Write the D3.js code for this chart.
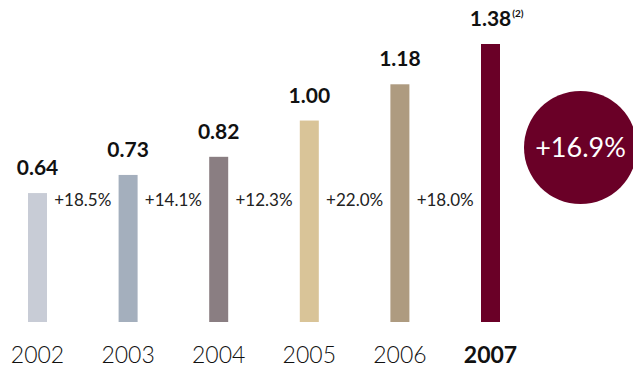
<!DOCTYPE html>
<html>
<head>
<meta charset="utf-8">
<script src="https://cdn.jsdelivr.net/npm/d3@7"></script>
<style>
  html, body { margin: 0; padding: 0; background: #fff; }
  svg { display: block; font-family: Lato, "Open Sans", sans-serif; }
</style>
</head>
<body>
<svg id="chart" width="633" height="368"></svg>
<script>
// Yearly values, growth between consecutive years, and bar colours
const years = ["2002", "2003", "2004", "2005", "2006", "2007"];
const values = [0.64, 0.73, 0.82, 1.00, 1.18, 1.38];
const valueLabels = ["0.64", "0.73", "0.82", "1.00", "1.18", "1.38"];
const growth = ["+18.5%", "+14.1%", "+12.3%", "+22.0%", "+18.0%"];
const barColors = ["#c8ccd6", "#a4afbd", "#8a7e82", "#d9c498", "#ae9b80", "#6a0027"];
const cagrLabel = "+16.9%";
const footnote = "(2)";

const svg = d3.select("#chart");
const baseline = 322;
const barWidth = 19;

const x = d3.scalePoint().domain(years).range([37.5, 490.5]);
const y = d3.scaleLinear().domain([0, 1.38]).range([baseline, 44]);

const data = years.map((yr, i) => ({ year: yr, value: values[i], label: valueLabels[i], color: barColors[i] }));

// Bars
svg.selectAll("rect.bar").data(data).join("rect")
  .attr("class", "bar")
  .attr("x", d => x(d.year) - barWidth / 2)
  .attr("y", d => y(d.value))
  .attr("width", barWidth)
  .attr("height", d => baseline - y(d.value))
  .attr("fill", d => d.color);

// Value labels above bars
const vl = svg.selectAll("text.val").data(data).join("text")
  .attr("class", "val")
  .attr("x", d => x(d.year))
  .attr("y", d => y(d.value) - 18)
  .attr("text-anchor", "middle")
  .attr("font-size", 21)
  .attr("font-weight", 700)
  .attr("fill", "#111")
  .text(d => d.label);

// Footnote marker on the last value
const last = data[data.length - 1];
const lastNode = vl.filter(d => d === last).node();
const bb = lastNode.getBBox();
svg.append("text")
  .attr("x", bb.x + bb.width + 1)
  .attr("y", y(last.value) - 27)
  .attr("font-size", 10)
  .attr("font-weight", 700)
  .attr("fill", "#111")
  .text(footnote);

// Growth labels between bars
svg.selectAll("text.growth").data(growth).join("text")
  .attr("class", "growth")
  .attr("x", (d, i) => (x(years[i]) + x(years[i + 1])) / 2)
  .attr("y", 206)
  .attr("text-anchor", "middle")
  .attr("font-size", 17)
  .attr("fill", "#222")
  .text(d => d);

// Year axis labels
svg.selectAll("text.year").data(data).join("text")
  .attr("class", "year")
  .attr("x", d => x(d.year))
  .attr("y", 363)
  .attr("text-anchor", "middle")
  .attr("font-size", 23)
  .attr("font-weight", (d, i) => i === years.length - 1 ? 700 : 300)
  .attr("fill", "#111")
  .text(d => d.year);

// Average growth bubble
svg.append("circle")
  .attr("cx", 580.5)
  .attr("cy", 147.5)
  .attr("r", 56.5)
  .attr("fill", "#6a0027");
svg.append("text")
  .attr("x", 580.5)
  .attr("y", 157)
  .attr("text-anchor", "middle")
  .attr("font-size", 27)
  .attr("fill", "#fff")
  .text(cagrLabel);
</script>
</body>
</html>
